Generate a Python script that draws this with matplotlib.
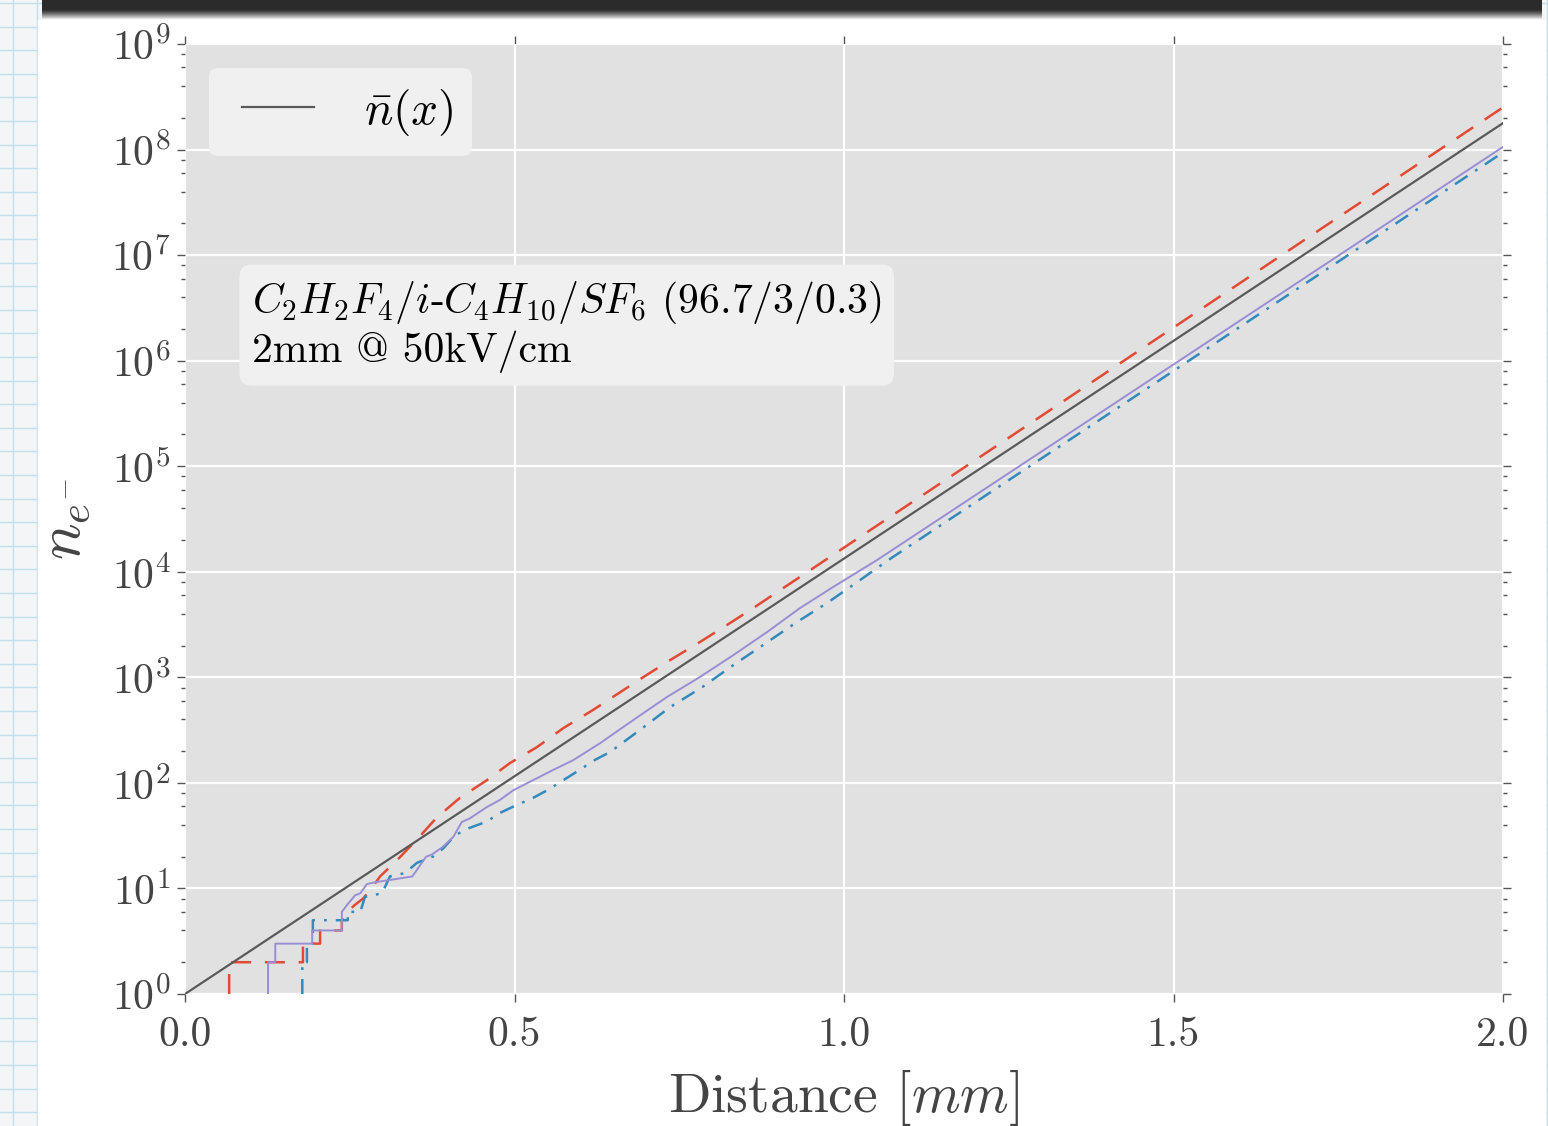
import numpy as np
import matplotlib
matplotlib.use("Agg")
import matplotlib.pyplot as plt
from matplotlib.patches import Rectangle
from matplotlib.ticker import LogLocator, NullFormatter
from matplotlib.legend_handler import HandlerLine2D

plt.rcParams['font.family'] = 'serif'
plt.rcParams['font.serif'] = ['cmr10']
plt.rcParams['mathtext.fontset'] = 'cm'
plt.rcParams['axes.formatter.use_mathtext'] = True
plt.rcParams['axes.unicode_minus'] = False

# mean avalanche size and three single avalanches (electrons vs. distance)
black_x = [0.0, 2.0]
black_n = [1.0, 1.78e8]

red_x = [0.067, 0.067, 0.179, 0.179, 0.205, 0.205, 0.238, 0.238, 0.246, 0.258,
         0.270, 0.283, 0.296, 0.322, 0.354, 0.382, 0.417, 0.458, 0.493, 0.534,
         0.574, 0.619, 0.649, 0.695, 0.736, 0.781, 0.822, 0.862, 0.903, 0.944,
         1.25, 1.5, 1.75, 2.0]
red_n = [1, 2, 2, 3, 3, 4, 4, 5, 6, 7,
         8, 10, 13, 18.6, 30, 47, 72, 106, 154, 218,
         330, 490, 650, 1000, 1455, 2153, 3119, 4519, 6699, 9908,
         1.86e5, 2.06e6, 2.28e7, 2.51e8]

purple_x = [0.126, 0.126, 0.137, 0.137, 0.193, 0.193, 0.238, 0.238, 0.246, 0.258,
            0.266, 0.276, 0.290, 0.310, 0.345, 0.355, 0.366, 0.375, 0.391, 0.407,
            0.420, 0.432, 0.458, 0.478, 0.498, 0.528, 0.558, 0.589, 0.630, 0.680,
            0.731, 0.781, 0.832, 0.883, 0.933, 0.983, 1.050, 1.25, 1.5, 1.75, 2.0]
purple_n = [1, 2, 2, 3, 3, 4, 4, 6, 7, 8.6,
            9, 11, 11.5, 12, 13, 16, 20, 21, 24.7, 30.7,
            42.6, 46, 59, 69, 85, 106, 132, 164, 238, 393,
            649, 1004, 1622, 2679, 4519, 7145, 1.29e4, 8.59e4, 9.2e5, 9.86e6, 1.06e8]

blue_x = [0.178, 0.178, 0.185, 0.185, 0.194, 0.194, 0.247, 0.247, 0.266, 0.273,
          0.299, 0.311, 0.334, 0.352, 0.376, 0.392, 0.410, 0.432, 0.458, 0.478,
          0.504, 0.528, 0.551, 0.574, 0.599, 0.622, 0.645, 0.690, 0.736, 0.785,
          0.832, 0.877, 0.926, 0.974, 1.020, 1.067, 1.25, 1.5, 1.75, 2.0]
blue_n = [1, 2, 2, 3, 3, 5, 5, 6, 6, 8.3,
          9, 13, 14, 17.5, 20, 24, 32, 37.5, 43, 52,
          62, 72, 86, 106, 133, 165, 196, 316, 522, 808,
          1306, 2018, 3262, 5045, 7976, 1.288e4, 7.38e4, 8.0e5, 8.67e6, 9.4e7]

W, H = 1548, 1126
fig = plt.figure(figsize=(W / 100, H / 100), dpi=100)

# slide backdrop: squared paper, white panel, dark bar on top
bg = fig.add_axes([0, 0, 1, 1], zorder=-10)
bg.set_xlim(0, W)
bg.set_ylim(H, 0)
bg.axis('off')
bg.add_patch(Rectangle((0, 0), W, H, color='#f3f5f6', zorder=0))
for gx in np.arange(13, W, 23.6):
    bg.axvline(gx, color='#c3dfeb', lw=1.0, zorder=1)
for gy in np.arange(3, H, 23.6):
    bg.axhline(gy, color='#c3dfeb', lw=1.0, zorder=1)
bg.add_patch(Rectangle((38, 20), 1507, H - 20, color='white', zorder=2))
rows = np.linspace(0.0, 1.0, 40)
shade = np.clip((rows - 0.45) / 0.55, 0, 1) ** 1.3 * 0.95 + 0.17
bg.imshow(np.tile(shade.reshape(-1, 1), (1, 10)), cmap='gray', vmin=0, vmax=1,
          extent=(42, 1542, 21, 0), aspect='auto', zorder=3)

ax = fig.add_axes([185 / W, 1 - 994 / H, 1318 / W, 950 / H])
ax.set_facecolor('#e1e1e1')
for s in ax.spines.values():
    s.set_visible(False)

ax.plot(red_x, red_n, color='#E24A33', lw=1.8, dashes=(8.0, 5.5))
ax.plot(blue_x, blue_n, color='#348ABD', lw=1.8, dashes=(6.0, 3.6, 1.1, 3.6))
ax.plot(purple_x, purple_n, color='#988ED5', lw=1.4)
black_line, = ax.plot(black_x, black_n, color='#5a5a5a', lw=1.6, label=r'$\bar{n}(x)$')

ax.set_yscale('log')
ax.set_xlim(0, 2.0)
ax.set_ylim(1, 1e9)
ax.set_xticks([0.0, 0.5, 1.0, 1.5, 2.0])
ax.set_xticklabels(['0.0', '0.5', '1.0', '1.5', '2.0'])
ax.yaxis.set_major_locator(LogLocator(base=10, numticks=20))
ax.yaxis.set_minor_locator(LogLocator(base=10, subs=(2, 4, 6, 8), numticks=20))
ax.yaxis.set_minor_formatter(NullFormatter())

ax.grid(True, which='major', color='white', lw=1.6)
ax.set_axisbelow(True)
ax.tick_params(which='both', direction='out', color='#555555', labelcolor='#444444',
               top=True, right=True, labelsize=30)
ax.tick_params(which='major', length=6, width=1)
ax.tick_params(which='minor', length=3, width=1)
ax.tick_params(axis='x', pad=10)
ax.tick_params(axis='y', pad=4)

ax.set_xlabel(r'Distance $[mm]$', fontsize=40, color='#444444', labelpad=10)
ax.set_ylabel(r'$n_{e^{-}}$', fontsize=44, color='#444444', labelpad=14)

leg = ax.legend(loc='upper left', fontsize=34, handlelength=1.83, handletextpad=1.06,
                borderpad=0.4, borderaxespad=0.5, fancybox=True, framealpha=1.0,
                handler_map={black_line: HandlerLine2D(xpad=0.3)})
leg.get_frame().set_facecolor('#f0f0f0')
leg.get_frame().set_edgecolor('none')

ax.text(0.0508, 0.703,
        r'$C_2H_2F_4/i$-$C_4H_{10}/SF_6$ (96.7/3/0.3)' + '\n' + '2mm @ 50kV/cm',
        transform=ax.transAxes, fontsize=30, va='center', ha='left', linespacing=1.15,
        bbox=dict(boxstyle='round,pad=0.3', facecolor='#f0f0f0', edgecolor='none'))

fig.savefig('out.png', dpi=100)
